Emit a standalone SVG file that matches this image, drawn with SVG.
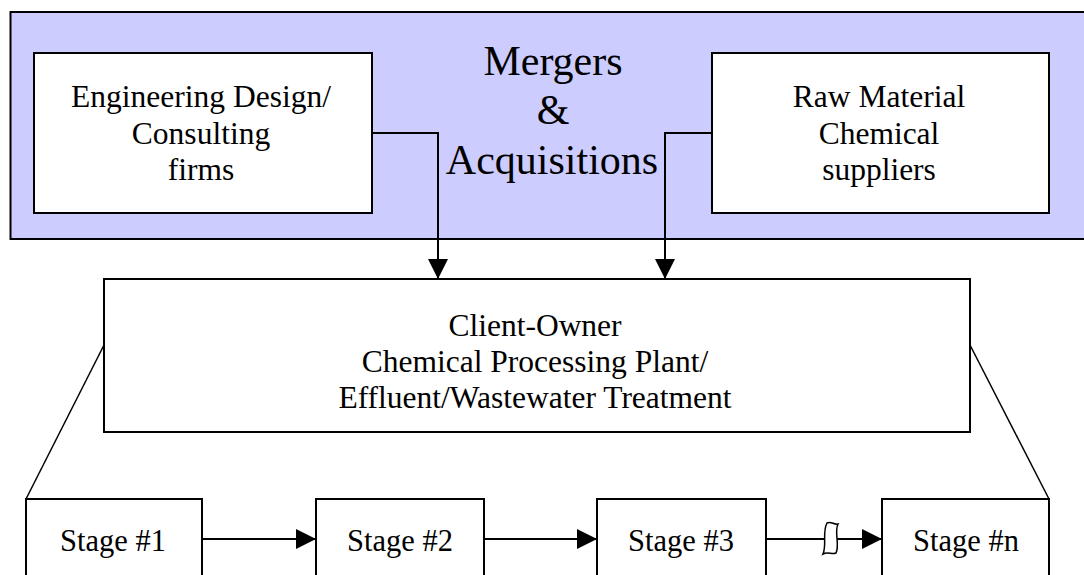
<svg xmlns="http://www.w3.org/2000/svg" width="1084" height="575" viewBox="0 0 1084 575">
<style>
.box{fill:#ffffff;stroke:#000000;stroke-width:2}
.t{font-family:"Liberation Serif","Times New Roman",serif;fill:#000000;text-anchor:middle}
.m{font-size:31.5px}
.s{font-size:30.5px}
.big{font-size:42px}
.ln{fill:none;stroke:#000000;stroke-width:2}
.thin{fill:none;stroke:#000000;stroke-width:1.5}
</style>
<defs>
<marker id="ah" markerUnits="userSpaceOnUse" markerWidth="22" markerHeight="22" refX="20" refY="10" orient="auto">
<path d="M0,0 L20,10 L0,20 Z" fill="#000000"/>
</marker>
</defs>
<g id="ma">
<rect x="10.5" y="12" width="1090" height="227" fill="#CCCCFF" stroke="#000000" stroke-width="2"/>
<text class="t big" x="553" y="75">Mergers</text>
<text class="t big" x="553" y="124">&amp;</text>
<text class="t big" x="552" y="174">Acquisitions</text>
</g>
<g id="eng">
<rect class="box" x="34" y="53" width="338" height="160"/>
<text class="t m" x="201" y="107">Engineering Design/</text>
<text class="t m" x="201" y="144">Consulting</text>
<text class="t m" x="201" y="180">firms</text>
</g>
<g id="raw">
<rect class="box" x="712" y="53" width="337" height="160"/>
<text class="t m" x="879" y="107">Raw Material</text>
<text class="t m" x="879" y="144">Chemical</text>
<text class="t m" x="879" y="180">suppliers</text>
</g>
<g id="client">
<rect class="box" x="104" y="279" width="866" height="153"/>
<text class="t m" x="535" y="336">Client-Owner</text>
<text class="t m" x="535" y="372">Chemical Processing Plant/</text>
<text class="t m" x="535" y="408">Effluent/Wastewater Treatment</text>
</g>
<g id="stage1">
<rect class="box" x="26" y="499" width="176" height="90"/>
<text class="t s" x="113" y="551">Stage #1</text>
</g>
<g id="stage2">
<rect class="box" x="316" y="499" width="168" height="90"/>
<text class="t s" x="400" y="551">Stage #2</text>
</g>
<g id="stage3">
<rect class="box" x="597" y="499" width="169" height="90"/>
<text class="t s" x="681" y="551">Stage #3</text>
</g>
<g id="stagen">
<rect class="box" x="882" y="499" width="167" height="90"/>
<text class="t s" x="966" y="551">Stage #n</text>
</g>
<g id="connectors">
<path class="ln" d="M372,133 H438 V279" marker-end="url(#ah)"/>
<path class="ln" d="M712,133 H665 V279" marker-end="url(#ah)"/>
<path class="thin" d="M104,345 L26,499"/>
<path class="thin" d="M970,345 L1049,499"/>
<path class="ln" d="M202,539 H316" marker-end="url(#ah)"/>
<path class="ln" d="M484,539 H597" marker-end="url(#ah)"/>
<path class="ln" d="M766,539 H882" marker-end="url(#ah)"/>
<path d="M827,523 C831,521 834,525 838,524 C834,532 840,545 836,553 C832,555 828,551 823,554 C827,545 822,532 827,523 Z" fill="#ffffff" stroke="#000000" stroke-width="1.5"/>
</g>
</svg>
